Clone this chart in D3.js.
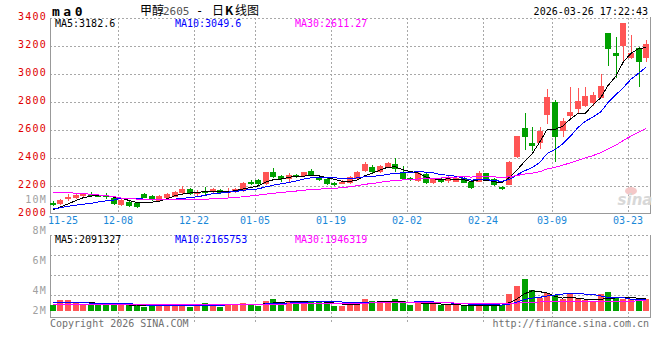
<!DOCTYPE html>
<html>
<head>
<meta charset="utf-8">
<script src="https://cdn.jsdelivr.net/npm/d3@7"></script>
<style>
  body { margin: 0; background: #fff; }
  svg text { font-family: "DejaVu Sans Mono", monospace; }
</style>
</head>
<body>
<div id="chart"></div>
<script>
// daily candles, oldest first (price in yuan/ton)
const opens = [2080,2071,2105,2116,2129,2140,2136,2135,2112,2064,
  2088,2081,2140,2129,2095,2112,2124,2148,2179,2143,
  2162,2155,2171,2155,2155,2166,2232,2243,2214,2298,
  2271,2248,2279,2274,2309,2255,2248,2224,2219,2219,
  2250,2309,2338,2302,2333,2357,2298,2260,2238,2283,
  2219,2250,2238,2231,2255,2229,2231,2290,2248,2195,
  2207,2405,2616,2509,2509,2707,2802,2595,2700,2748,
  2771,2791,2831,3295,3152,3200,3117,3183,3117];
const highs = [2092,2108,2140,2145,2150,2155,2145,2150,2118,2105,
  2095,2086,2152,2135,2135,2148,2165,2200,2185,2170,
  2193,2186,2178,2183,2185,2228,2245,2248,2302,2326,
  2278,2290,2285,2300,2318,2265,2255,2232,2240,2268,
  2310,2372,2350,2352,2372,2398,2340,2266,2298,2290,
  2258,2256,2268,2266,2262,2232,2305,2296,2254,2200,
  2380,2560,2724,2624,2619,2891,2814,2686,2909,2898,
  2909,2874,3000,3295,3266,3366,3279,3195,3241];
const lows = [2060,2065,2095,2110,2120,2125,2120,2110,2065,2058,
  2052,2040,2112,2095,2090,2108,2118,2143,2138,2125,
  2130,2150,2148,2120,2150,2160,2205,2205,2210,2255,
  2230,2230,2258,2268,2268,2235,2205,2198,2212,2214,
  2245,2302,2295,2296,2328,2302,2245,2238,2232,2215,
  2212,2222,2225,2226,2218,2182,2226,2242,2200,2168,
  2205,2398,2457,2452,2462,2643,2374,2552,2684,2719,
  2762,2771,2826,3057,2969,3088,3105,2909,3083];
const closes = [2075,2100,2124,2136,2143,2136,2126,2130,2071,2100,
  2059,2052,2116,2100,2129,2141,2159,2179,2143,2155,
  2157,2179,2152,2162,2179,2224,2226,2212,2298,2266,
  2248,2279,2266,2298,2274,2245,2212,2210,2231,2262,
  2302,2357,2302,2345,2362,2319,2250,2243,2290,2224,
  2250,2229,2260,2260,2224,2188,2290,2248,2207,2180,
  2374,2557,2552,2486,2595,2838,2548,2666,2731,2809,
  2843,2850,2914,3179,3131,3362,3148,3088,3212];

// moving average lines as drawn on the chart
const ma5 = [2030,2050,2072,2095,2116,2128,2133,2134,2121,2113,
  2097,2082,2080,2085,2091,2108,2129,2142,2150,2155,
  2159,2163,2157,2161,2166,2179,2189,2201,2228,2245,
  2250,2261,2271,2271,2273,2272,2259,2248,2234,2232,
  2243,2272,2291,2314,2334,2337,2316,2304,2293,2265,
  2251,2247,2251,2245,2245,2232,2244,2242,2231,2223,
  2260,2313,2374,2430,2513,2606,2604,2627,2676,2718,
  2719,2780,2829,2919,2983,3087,3147,3182,3188];
const ma10 = [2036,2045,2055,2063,2070,2076,2086,2094,2100,2114,
  2113,2108,2107,2103,2102,2102,2106,2111,2118,2123,
  2133,2146,2149,2156,2161,2169,2176,2179,2194,2206,
  2215,2225,2236,2250,2259,2261,2260,2260,2253,2253,
  2258,2266,2269,2274,2283,2290,2294,2297,2303,2299,
  2294,2281,2277,2269,2255,2242,2246,2246,2238,2234,
  2246,2279,2308,2331,2368,2433,2459,2500,2553,2616,
  2663,2692,2728,2797,2851,2903,2963,3005,3050];
const ma30 = [2157,2155,2152,2149,2146,2141,2136,2131,2124,2114,
  2110,2107,2105,2103,2102,2101,2101,2102,2103,2104,
  2106,2108,2111,2114,2118,2123,2129,2135,2142,2148,
  2153,2159,2164,2170,2174,2178,2180,2183,2188,2194,
  2202,2212,2218,2226,2234,2240,2243,2245,2250,2253,
  2256,2257,2261,2264,2266,2264,2267,2268,2265,2262,
  2266,2275,2285,2291,2302,2322,2333,2348,2365,2383,
  2401,2417,2438,2466,2491,2526,2556,2584,2611];

// volume, millions of lots
const volumes = [1.0,1.83,1.83,1.28,1.12,1.0,1.0,1.0,1.0,1.0,
  1.0,1.0,0.72,0.83,0.83,0.83,1.12,1.0,0.72,1.17,
  1.38,1.17,0.72,1.17,0.95,1.38,1.17,0.88,1.67,2.0,
  1.5,1.67,1.67,1.67,1.67,1.67,1.38,0.88,0.88,1.17,
  1.5,1.95,1.67,1.5,1.5,2.0,1.67,1.0,1.28,1.28,
  1.28,1.0,1.0,1.0,0.83,0.83,1.0,1.0,1.0,1.0,
  2.83,4.17,5.33,3.5,2.12,3.05,2.67,1.95,2.83,2.22,
  1.83,1.72,2.83,3.17,2.12,2.05,2.05,2.05,2.05];
const volMa5 = [1.42,1.42,1.42,1.42,1.41,1.41,1.25,1.08,1.02,1.0,
  1.0,1.0,0.94,0.91,0.88,0.84,0.92,0.96,0.93,1.0,
  1.05,1.09,1.09,1.09,1.0,1.04,1.13,1.08,1.22,1.34,
  1.41,1.57,1.57,1.5,1.54,1.54,1.48,1.32,1.16,1.06,
  1.09,1.3,1.46,1.52,1.52,1.53,1.53,1.43,1.39,1.25,
  1.17,1.17,1.11,1.06,0.97,0.93,0.93,0.93,0.97,1.0,
  1.37,2.0,2.87,3.37,3.22,3.0,2.47,2.16,2.3,2.13,
  1.97,1.92,1.95,2.11,2.17,2.23,2.2,2.15,2.1];
const volMa10 = [1.35,1.35,1.35,1.35,1.34,1.33,1.3,1.27,1.24,1.21,
  1.21,1.12,1.01,0.97,0.94,0.92,0.93,0.93,0.91,0.92,
  0.96,0.98,0.98,1.01,1.02,1.08,1.08,1.07,1.17,1.25,
  1.26,1.31,1.41,1.46,1.53,1.56,1.58,1.58,1.5,1.42,
  1.42,1.44,1.44,1.43,1.41,1.44,1.47,1.48,1.52,1.54,
  1.51,1.42,1.35,1.3,1.23,1.12,1.05,1.05,1.02,0.99,
  1.15,1.47,1.9,2.15,2.28,2.5,2.67,2.83,2.85,2.85,
  2.83,2.8,2.5,2.25,2.22,2.2,1.98,1.95,1.95];
const volMa30 = [1.05,1.05,1.05,1.05,1.06,1.06,1.07,1.07,1.08,1.08,
  1.08,1.08,1.09,1.09,1.1,1.1,1.1,1.1,1.1,1.1,
  1.1,1.11,1.11,1.11,1.12,1.12,1.12,1.12,1.13,1.13,
  1.15,1.17,1.2,1.22,1.24,1.26,1.27,1.27,1.27,1.28,
  1.3,1.32,1.34,1.35,1.36,1.37,1.38,1.38,1.38,1.37,
  1.36,1.35,1.34,1.33,1.31,1.29,1.27,1.25,1.22,1.2,
  1.25,1.32,1.42,1.48,1.5,1.53,1.55,1.57,1.59,1.6,
  1.61,1.62,1.63,1.64,1.65,1.66,1.66,1.67,1.67];

// x axis: trading-day index of each date label
const tickIdx = [0, 9, 19, 27, 37, 47, 57, 66, 76];
const tickLabels = ["11-25","12-08","12-22","01-05","01-19","02-02","02-24","03-09","03-23"];
const priceTicks = [2000, 2200, 2400, 2600, 2800, 3000, 3200, 3400];
const volTicks = [2, 4, 6, 8, 10];

const RED = "#ff5555", GREEN = "#00a000", GRID = "#a8a8a8", AXIS = "#999";

document.addEventListener('DOMContentLoaded', function() {
    const svg = setupSVG();
    const x = d3.scaleBand().domain(d3.range(closes.length))
        .range([49, 650]).paddingInner(0.22).paddingOuter(0.11);
    const y = d3.scaleLinear().domain([2000, 3400]).range([214, 18]);
    const yv = d3.scaleLinear().domain([0, 1]).range([311, 305]);
    // the volume labels sit on their own (clamped) ladder in the original
    const yvLabel = d3.scaleLinear().domain([4, 10]).range([294.3, 203.3]);

    drawFrames(svg, x, y);
    drawPriceAxis(svg, y, yvLabel);
    drawCandles(svg, x, y);
    drawLines(svg, x, y, [ma5, ma10, ma30], 210);
    drawVolume(svg, x, yv);
    drawLines(svg, x, yv, [volMa5, volMa10, volMa30], 318);
    drawTexts(svg, x);
});

function setupSVG() {
    return d3.select('#chart').append('svg')
        .attr('width', 660)
        .attr('height', 360)
        .style('display', 'block')
        .style('background', '#fff');
}

function px(v) { return Math.round(v) + 0.5; }

function drawFrames(svg, x, y) {
    const g = svg.append('g').attr('shape-rendering', 'crispEdges');
    const gx = tickIdx.slice(1).map(i => px(x(i)));

    // price panel
    priceTicks.slice(1).forEach(v => {
        g.append('line').attr('x1', 50).attr('x2', 650)
            .attr('y1', px(y(v))).attr('y2', px(y(v)))
            .attr('stroke', GRID).attr('stroke-dasharray', '2,2');
    });
    gx.forEach(xx => {
        g.append('line').attr('x1', xx).attr('x2', xx).attr('y1', 18).attr('y2', 213)
            .attr('stroke', GRID).attr('stroke-dasharray', '2,2');
    });
    g.append('line').attr('x1', 50).attr('x2', 651).attr('y1', 213.5).attr('y2', 213.5).attr('stroke', AXIS);
    g.append('line').attr('x1', 50.5).attr('x2', 50.5).attr('y1', 18).attr('y2', 214).attr('stroke', AXIS);
    g.append('line').attr('x1', 650.5).attr('x2', 650.5).attr('y1', 17).attr('y2', 214).attr('stroke', AXIS);

    // volume panel
    [235.5, 255.5, 275.5, 295.5].forEach(yy => {
        g.append('line').attr('x1', 50).attr('x2', 650).attr('y1', yy).attr('y2', yy)
            .attr('stroke', GRID).attr('stroke-dasharray', '2,2');
    });
    gx.forEach(xx => {
        g.append('line').attr('x1', xx).attr('x2', xx).attr('y1', 236).attr('y2', 322)
            .attr('stroke', GRID).attr('stroke-dasharray', '2,2');
    });
    g.append('line').attr('x1', 50).attr('x2', 651).attr('y1', 317.5).attr('y2', 317.5).attr('stroke', AXIS);
    g.append('line').attr('x1', 50.5).attr('x2', 50.5).attr('y1', 235).attr('y2', 318).attr('stroke', AXIS);
    g.append('line').attr('x1', 650.5).attr('x2', 650.5).attr('y1', 235).attr('y2', 318).attr('stroke', AXIS);
}

function drawPriceAxis(svg, y, yvLabel) {
    svg.append('g').selectAll('text')
        .data(priceTicks)
        .enter().append('text')
        .attr('x', 47).attr('y', d => y(d) + 2)
        .attr('text-anchor', 'end')
        .attr('fill', '#e00000')
        .style('font-size', '10px')
        .style('letter-spacing', '1.25px')
        .text(d => d);

    svg.append('g').selectAll('text')
        .data(volTicks)
        .enter().append('text')
        .attr('x', 47).attr('y', d => Math.min(yvLabel(d), 314))
        .attr('text-anchor', 'end')
        .attr('fill', '#a0a0a0')
        .style('font-size', '10px')
        .style('letter-spacing', '1.25px')
        .text(d => d + 'M');
}

function drawCandles(svg, x, y) {
    const g = svg.append('g').attr('shape-rendering', 'crispEdges');
    const idx = d3.range(closes.length);
    const col = i => closes[i] >= opens[i] ? RED : GREEN;

    g.selectAll('.wick').data(idx).enter().append('rect')
        .attr('class', 'wick')
        .attr('x', i => Math.round(x(i)) + 3)
        .attr('y', i => Math.round(y(highs[i])))
        .attr('width', 1)
        .attr('height', i => Math.max(1, Math.round(y(lows[i])) - Math.round(y(highs[i]))))
        .attr('fill', col);

    g.selectAll('.body').data(idx).enter().append('rect')
        .attr('class', 'body')
        .attr('x', i => Math.round(x(i)))
        .attr('y', i => Math.round(y(Math.max(opens[i], closes[i]))))
        .attr('width', 6)
        .attr('height', i => Math.max(2, Math.round(y(Math.min(opens[i], closes[i]))) - Math.round(y(Math.max(opens[i], closes[i])))))
        .attr('fill', col);
}

function drawLines(svg, x, yScale, series, clipBottom) {
    const colors = ['#000', '#0000ff', '#ff00ff'];
    const half = x.bandwidth() / 2;
    series.forEach((s, k) => {
        const line = d3.line()
            .x((d, i) => x(i) + half)
            .y(d => Math.min(yScale(d), clipBottom));
        svg.append('path')
            .datum(s)
            .attr('d', line)
            .attr('fill', 'none')
            .attr('stroke', colors[k])
            .attr('stroke-width', 1)
            .attr('shape-rendering', 'crispEdges');
    });
}

function drawVolume(svg, x, yv) {
    svg.append('g').attr('shape-rendering', 'crispEdges')
        .selectAll('rect')
        .data(volumes)
        .enter().append('rect')
        .attr('x', (d, i) => Math.round(x(i)))
        .attr('y', d => Math.round(yv(d)))
        .attr('width', 6)
        .attr('height', d => 311 - Math.round(yv(d)))
        .attr('fill', (d, i) => closes[i] >= opens[i] ? RED : GREEN);
}

function drawTexts(svg, x) {
    // header
    svg.append('text').attr('x', 52).attr('y', 16)
        .style('font-size', '13px').style('font-weight', 'bold')
        .style('letter-spacing', '3.5px')
        .text('ma0');

    const cjk = '"Noto Sans CJK SC", sans-serif';
    const title = svg.append('text').attr('y', 15).style('font-size', '12px');
    title.append('tspan').attr('x', 140).style('font-family', cjk).text('甲醇');
    title.append('tspan').attr('x', 163).attr('fill', '#555').style('font-size', '11px').text('2605');
    title.append('tspan').attr('x', 196).text('-');
    title.append('tspan').attr('x', 212).style('font-family', cjk).text('日');
    title.append('tspan').attr('x', 225).style('font-family', cjk).style('font-weight', 'bold').text('K');
    title.append('tspan').attr('x', 235).style('font-family', cjk).text('线图');

    svg.append('text').attr('x', 648).attr('y', 15)
        .attr('text-anchor', 'end')
        .style('font-size', '10px')
        .text('2026-03-26 17:22:43');

    // legends
    const legend = (yy, labels) => {
        const cols = ['#000', '#0000ff', '#ff00ff'];
        const xs = [55, 175, 295];
        labels.forEach((t, k) => {
            svg.append('text').attr('x', xs[k]).attr('y', yy)
                .attr('fill', cols[k]).style('font-size', '10px').text(t);
        });
    };
    legend(27, ['MA5:3182.6', 'MA10:3049.6', 'MA30:2611.27']);
    legend(243, ['MA5:2091327', 'MA10:2165753', 'MA30:1946319']);

    // date labels; the first one starts at the left edge so it clears the y labels
    svg.append('g').selectAll('text')
        .data(tickIdx)
        .enter().append('text')
        .attr('x', (i, k) => k === 0 ? 48 : Math.round(x(i)))
        .attr('y', 224)
        .attr('text-anchor', (i, k) => k === 0 ? 'start' : 'middle')
        .attr('fill', '#1a88d8')
        .style('font-size', '10px')
        .text((d, k) => tickLabels[k]);

    // footer
    svg.append('text').attr('x', 50).attr('y', 327)
        .attr('fill', '#707070').style('font-size', '10px')
        .text('Copyright 2026 SINA.COM');
    svg.append('text').attr('x', 649).attr('y', 327)
        .attr('text-anchor', 'end')
        .attr('fill', '#707070').style('font-size', '10px')
        .text('http://finance.sina.com.cn');

    // faint sina watermark
    svg.append('ellipse').attr('cx', 631).attr('cy', 191).attr('rx', 6).attr('ry', 4)
        .attr('fill', '#f4c8c8');
    svg.append('text').attr('x', 635).attr('y', 205)
        .attr('text-anchor', 'middle')
        .attr('fill', '#d8d8d8')
        .style('font-family', '"DejaVu Sans", sans-serif')
        .style('font-size', '15px').style('font-weight', 'bold').style('font-style', 'italic')
        .text('sina');
}
</script>
</body>
</html>
